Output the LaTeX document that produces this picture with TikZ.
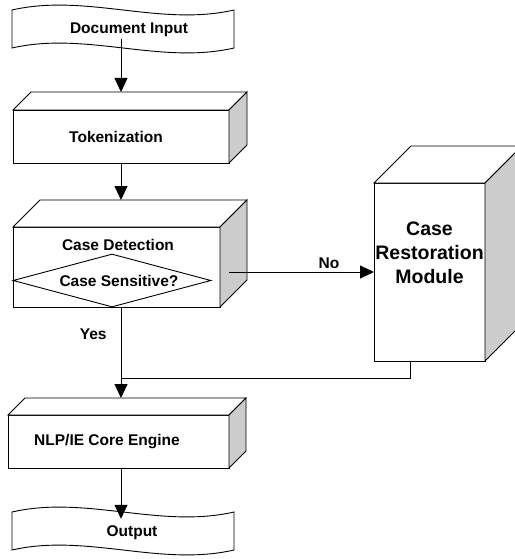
\documentclass[tikz,border=0pt]{standalone}
\usepackage{fontspec}
\setmainfont{Liberation Sans}
\usetikzlibrary{arrows.meta,positioning,calc,shapes.geometric}
\definecolor{cK}{HTML}{000000}
\definecolor{cG}{HTML}{CCCCCC}
\tikzset{
  ln/.style={draw=cK,line width=.9pt},
  face/.style={ln,fill=white,inner sep=0pt,outer sep=0pt,
              font=\fontsize{15.5}{18}\selectfont\bfseries},
  lbl/.style={font=\fontsize{15.5}{18}\selectfont\bfseries,inner sep=2pt},
  big/.style={font=\fontsize{19.5}{24}\selectfont\bfseries,align=center},
  decision/.style={diamond,ln,fill=white,aspect=3.7,inner sep=0pt,
              minimum width=198pt,minimum height=53pt,
              font=\fontsize{15.5}{18}\selectfont\bfseries},
  flow/.style={ln,-{Triangle[length=14pt,width=13pt]}},
}
% top and side of a box drawn behind the front face
\newcommand{\slab}[2]{%
  \draw[ln,fill=white] (#1.north west) -- ++(#2,-#2) -- ($(#1.north east)+(#2,-#2)$)
    -- (#1.north east) -- cycle;
  \draw[ln,fill=cG] (#1.north east) -- ++(#2,-#2) -- ($(#1.south east)+(#2,-#2)$)
    -- (#1.south east) -- cycle;
  \coordinate (#1-top) at ($(#1.north)+(0,-#2)$);}
% punched tape: left x, top y, bottom y
\newcommand{\tapeshape}[3]{%
  \draw[ln,fill=white] (#1,#2) .. controls +(74,-17) and +(-74,17) .. (#1+222,#2)
    -- (#1+222,#3) .. controls +(-74,17) and +(74,-17) .. (#1,#3) -- cycle;}

\begin{document}
\begin{tikzpicture}[x=1pt,y=-1pt]
  \useasboundingbox (0,0) rectangle (514,559);
  % input
  \tapeshape{12}{10}{48}
  \node[lbl] (din) at (129,30) {Document Input};
  % stages
  \node[face,minimum width=216pt,minimum height=53pt] (tok) at (121,136.5) {Tokenization\hspace*{10pt}};
  \slab{tok}{18}
  \node[face,minimum width=207pt,minimum height=80pt] (cd) at (116.5,267) {};
  \slab{cd}{27}
  \node[lbl] (cdt) at (118,245) {Case Detection};
  \node[decision] (cs) at (112,280.5) {\hspace*{14pt}Case Sensitive?};
  \node[face,minimum width=111pt,minimum height=178pt] (crm) at (429.5,272) {};
  \slab{crm}{37}
  \node[big] (crmt) at (429.5,253) {Case\\Restoration\\Module};
  \node[face,minimum width=221pt,minimum height=53pt] (nlp) at (118.5,441.5) {NLP/IE Core Engine\hspace*{23pt}};
  \slab{nlp}{17}
  % output
  \tapeshape{12}{512}{550}
  \node[lbl,inner sep=7pt] (out) at (132,533) {Output};
  \coordinate (join) at (121,378);
  \coordinate (ret) at ([xshift=-19.5pt]crm.south);
  % connectors
  \draw[flow] (din.south -| tok-top) -- (tok-top);
  \draw[flow] (tok.south) -- (tok.south |- cd-top);
  \draw[flow] ($(cd.east |- crm.west)+(9,0)$) -- (crm.west)
    node[lbl,pos=.69,above=1pt]{No};
  \draw[ln] (tok.south |- cd.south) -- (join) node[lbl,pos=.39,left=12pt]{Yes};
  \draw[ln] (ret) |- (join);
  \draw[flow] (join) -- (join |- nlp-top);
  \draw[flow] (join |- nlp.south) -- (join |- out.north);
\end{tikzpicture}
\end{document}
